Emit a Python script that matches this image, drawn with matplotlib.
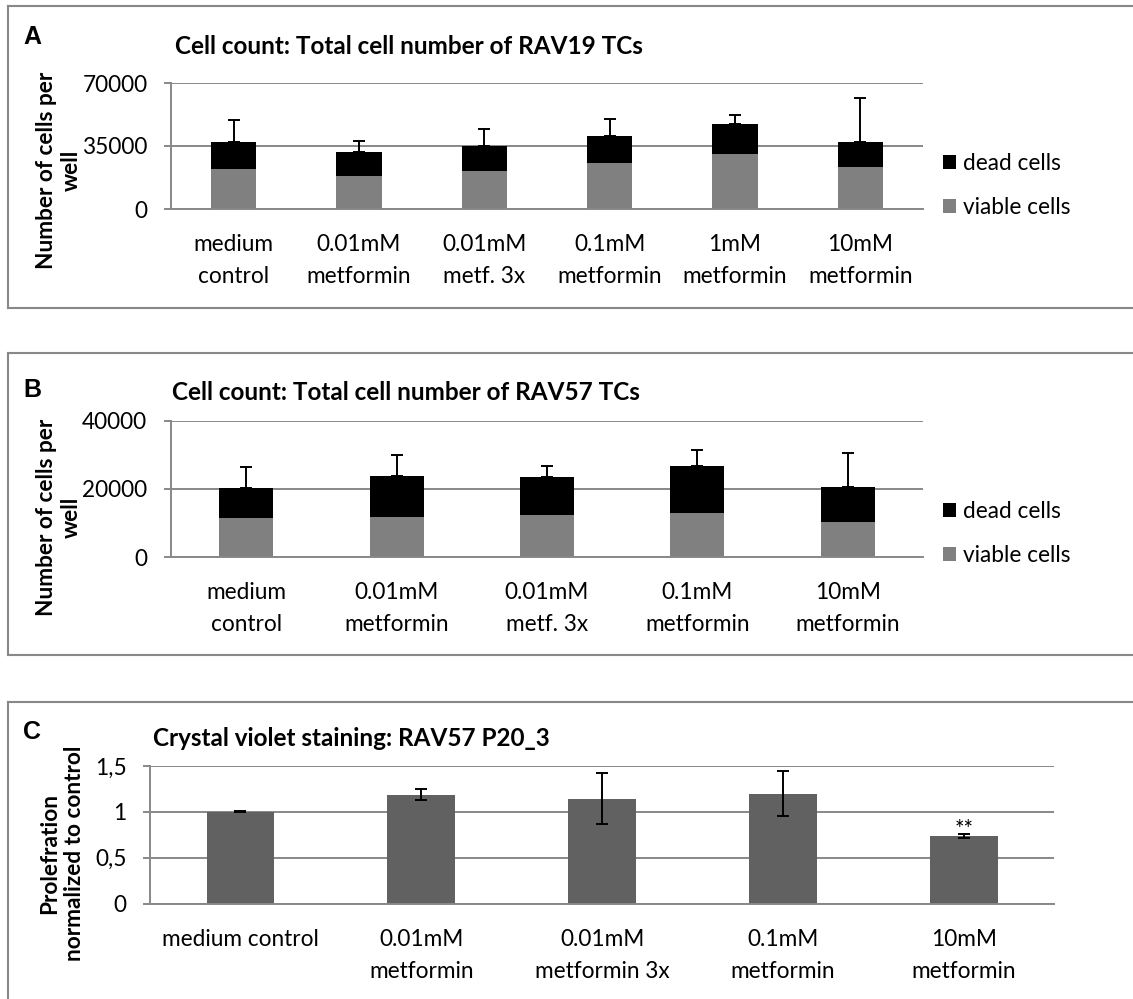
import matplotlib
matplotlib.use("Agg")
import matplotlib.pyplot as plt
from matplotlib.lines import Line2D
import numpy as np

# ---------------- data ----------------
cats_a = ["medium\ncontrol", "0.01mM\nmetformin", "0.01mM\nmetf. 3x",
          "0.1mM\nmetformin", "1mM\nmetformin", "10mM\nmetformin"]
viable_a = [22400, 18150, 21300, 25750, 30550, 23150]
dead_a = [14650, 13700, 13900, 15000, 16650, 13900]
err_a = [12400, 5950, 9450, 9450, 5000, 24800]

cats_b = ["medium\ncontrol", "0.01mM\nmetformin", "0.01mM\nmetf. 3x",
          "0.1mM\nmetformin", "10mM\nmetformin"]
viable_b = [11500, 11900, 12450, 12950, 10400]
dead_b = [8700, 12000, 11150, 13750, 10100]
err_b = [6300, 5950, 3200, 4600, 9950]

cats_c = ["medium control", "0.01mM\nmetformin", "0.01mM\nmetformin 3x",
          "0.1mM\nmetformin", "10mM\nmetformin"]
prolif_c = [1.0, 1.187, 1.144, 1.198, 0.741]
err_c = [0.005, 0.058, 0.28, 0.247, 0.023]
yticks_c = [0, 0.5, 1, 1.5]
yticklabels_c = ["0", "0,5", "1", "1,5"]

# ---------------- style ----------------
W, H = 1133, 999
FONT = "Lato"
TICK_FS = 16.3
TITLE_FS = 17.5
YLAB_FS = 16.3
GRID = "#888888"
plt.rcParams["font.family"] = [FONT, "DejaVu Sans"]

fig = plt.figure(figsize=(W / 100, H / 100), dpi=100)


def px_axes(x0, y0, x1, y1):
    return fig.add_axes([x0 / W, 1 - y1 / H, (x1 - x0) / W, (y1 - y0) / H])


def style_axes(ax, ymax, yticks, yticklabels=None):
    ax.set_ylim(0, ymax)
    ax.set_yticks(yticks)
    if yticklabels is not None:
        ax.set_yticklabels(yticklabels)
    for s in ("top", "right"):
        ax.spines[s].set_visible(False)
    for s in ("left", "bottom"):
        ax.spines[s].set_color(GRID)
        ax.spines[s].set_linewidth(1.4)
    ax.yaxis.grid(True, color=GRID, linewidth=1.4)
    ax.set_axisbelow(True)
    ax.tick_params(axis="y", length=5, width=1.4, color=GRID,
                   labelsize=TICK_FS, pad=12)
    ax.tick_params(axis="x", length=0, labelsize=TICK_FS, pad=18)
    for lab in ax.get_xticklabels():
        lab.set_linespacing(1.65)


def frame(y0, y1):
    kw = dict(color=GRID, linewidth=1.5, transform=fig.transFigure,
              clip_on=False)
    fig.add_artist(Line2D([8 / W, 1.02], [1 - y0 / H] * 2, **kw))
    fig.add_artist(Line2D([8 / W, 8 / W], [1 - y0 / H, 1 - y1 / H], **kw))
    if y1 < H:
        fig.add_artist(Line2D([8 / W, 1.02], [1 - y1 / H] * 2, **kw))


def stacked_panel(ax, cats, viable, dead, err, ymax, yticks, legend_y):
    x = np.arange(len(cats))
    total = np.array(viable) + np.array(dead)
    bv = ax.bar(x, viable, width=0.36, color="#808080", zorder=2,
                label="viable cells")
    bd = ax.bar(x, dead, bottom=viable, width=0.36, color="#000000",
                zorder=2, label="dead cells")
    ax.errorbar(x, total, yerr=[np.zeros(len(x)), err], fmt="none",
                ecolor="black", elinewidth=1.4, capsize=4.3, capthick=1.4,
                zorder=3)
    ax.set_xlim(-0.5, len(cats) - 0.5)
    ax.set_xticks(x)
    ax.set_xticklabels(cats)
    style_axes(ax, ymax, yticks)
    ax.legend([bd, bv], ["dead cells", "viable cells"], loc="center left",
              bbox_to_anchor=(943 / W, 1 - legend_y / H),
              bbox_transform=fig.transFigure, frameon=False, borderpad=0,
              borderaxespad=0, handlelength=0.58, handleheight=0.58,
              handletextpad=0.3, labelspacing=1.0, fontsize=TICK_FS)


def ylabel(x, y, text):
    fig.text(x / W, 1 - y / H, text, rotation=90, fontsize=YLAB_FS,
             fontweight="bold", ha="center", va="center",
             multialignment="center", linespacing=1.2)


# ---------------- panel A ----------------
frame(6, 308)
ax_a = px_axes(171, 83, 923, 209)
stacked_panel(ax_a, cats_a, viable_a, dead_a, err_a, 70000,
              [0, 35000, 70000], 185.5)
fig.text(175 / W, 1 - 47 / H, "Cell count: Total cell number of RAV19 TCs",
         fontsize=TITLE_FS, fontweight="bold", ha="left", va="center")
fig.text(23 / W, 1 - 37 / H, "A", fontsize=18, fontweight="bold",
         family="Liberation Sans", ha="left", va="center")
ylabel(59, 170, "Number of cells per\nwell")

# ---------------- panel B ----------------
frame(353, 655)
ax_b = px_axes(171, 420.7, 923, 557.3)
stacked_panel(ax_b, cats_b, viable_b, dead_b, err_b, 40000,
              [0, 20000, 40000], 533.5)
fig.text(172 / W, 1 - 393 / H, "Cell count: Total cell number of RAV57 TCs",
         fontsize=TITLE_FS, fontweight="bold", ha="left", va="center")
fig.text(23 / W, 1 - 390 / H, "B", fontsize=18, fontweight="bold",
         family="Liberation Sans", ha="left", va="center")
ylabel(59, 517, "Number of cells per\nwell")

# ---------------- panel C ----------------
frame(702, H + 20)
ax_c = px_axes(150, 766, 1054.3, 903.7)
xc = np.arange(len(cats_c))
ax_c.bar(xc, prolif_c, width=0.375, color="#616161", zorder=2)
ax_c.errorbar(xc, prolif_c, yerr=err_c, fmt="none", ecolor="black",
              elinewidth=1.4, capsize=4.0, capthick=1.4, zorder=3)
ax_c.set_xlim(-0.5, len(cats_c) - 0.5)
ax_c.set_xticks(xc)
ax_c.set_xticklabels(cats_c)
style_axes(ax_c, 1.5, yticks_c, yticklabels_c)
ax_c.annotate("**", (xc[-1], prolif_c[-1] + err_c[-1]), xytext=(0, 3),
              textcoords="offset points", ha="center", va="center",
              fontsize=TICK_FS)
fig.text(153 / W, 1 - 738 / H, "Crystal violet staining: RAV57 P20_3",
         fontsize=TITLE_FS, fontweight="bold", ha="left", va="center")
fig.text(23 / W, 1 - 732 / H, "C", fontsize=18, fontweight="bold",
         family="Liberation Sans", ha="left", va="center")
ylabel(62, 853, "Prolefration\nnormalized to control")

fig.savefig("out.png", dpi=100)
